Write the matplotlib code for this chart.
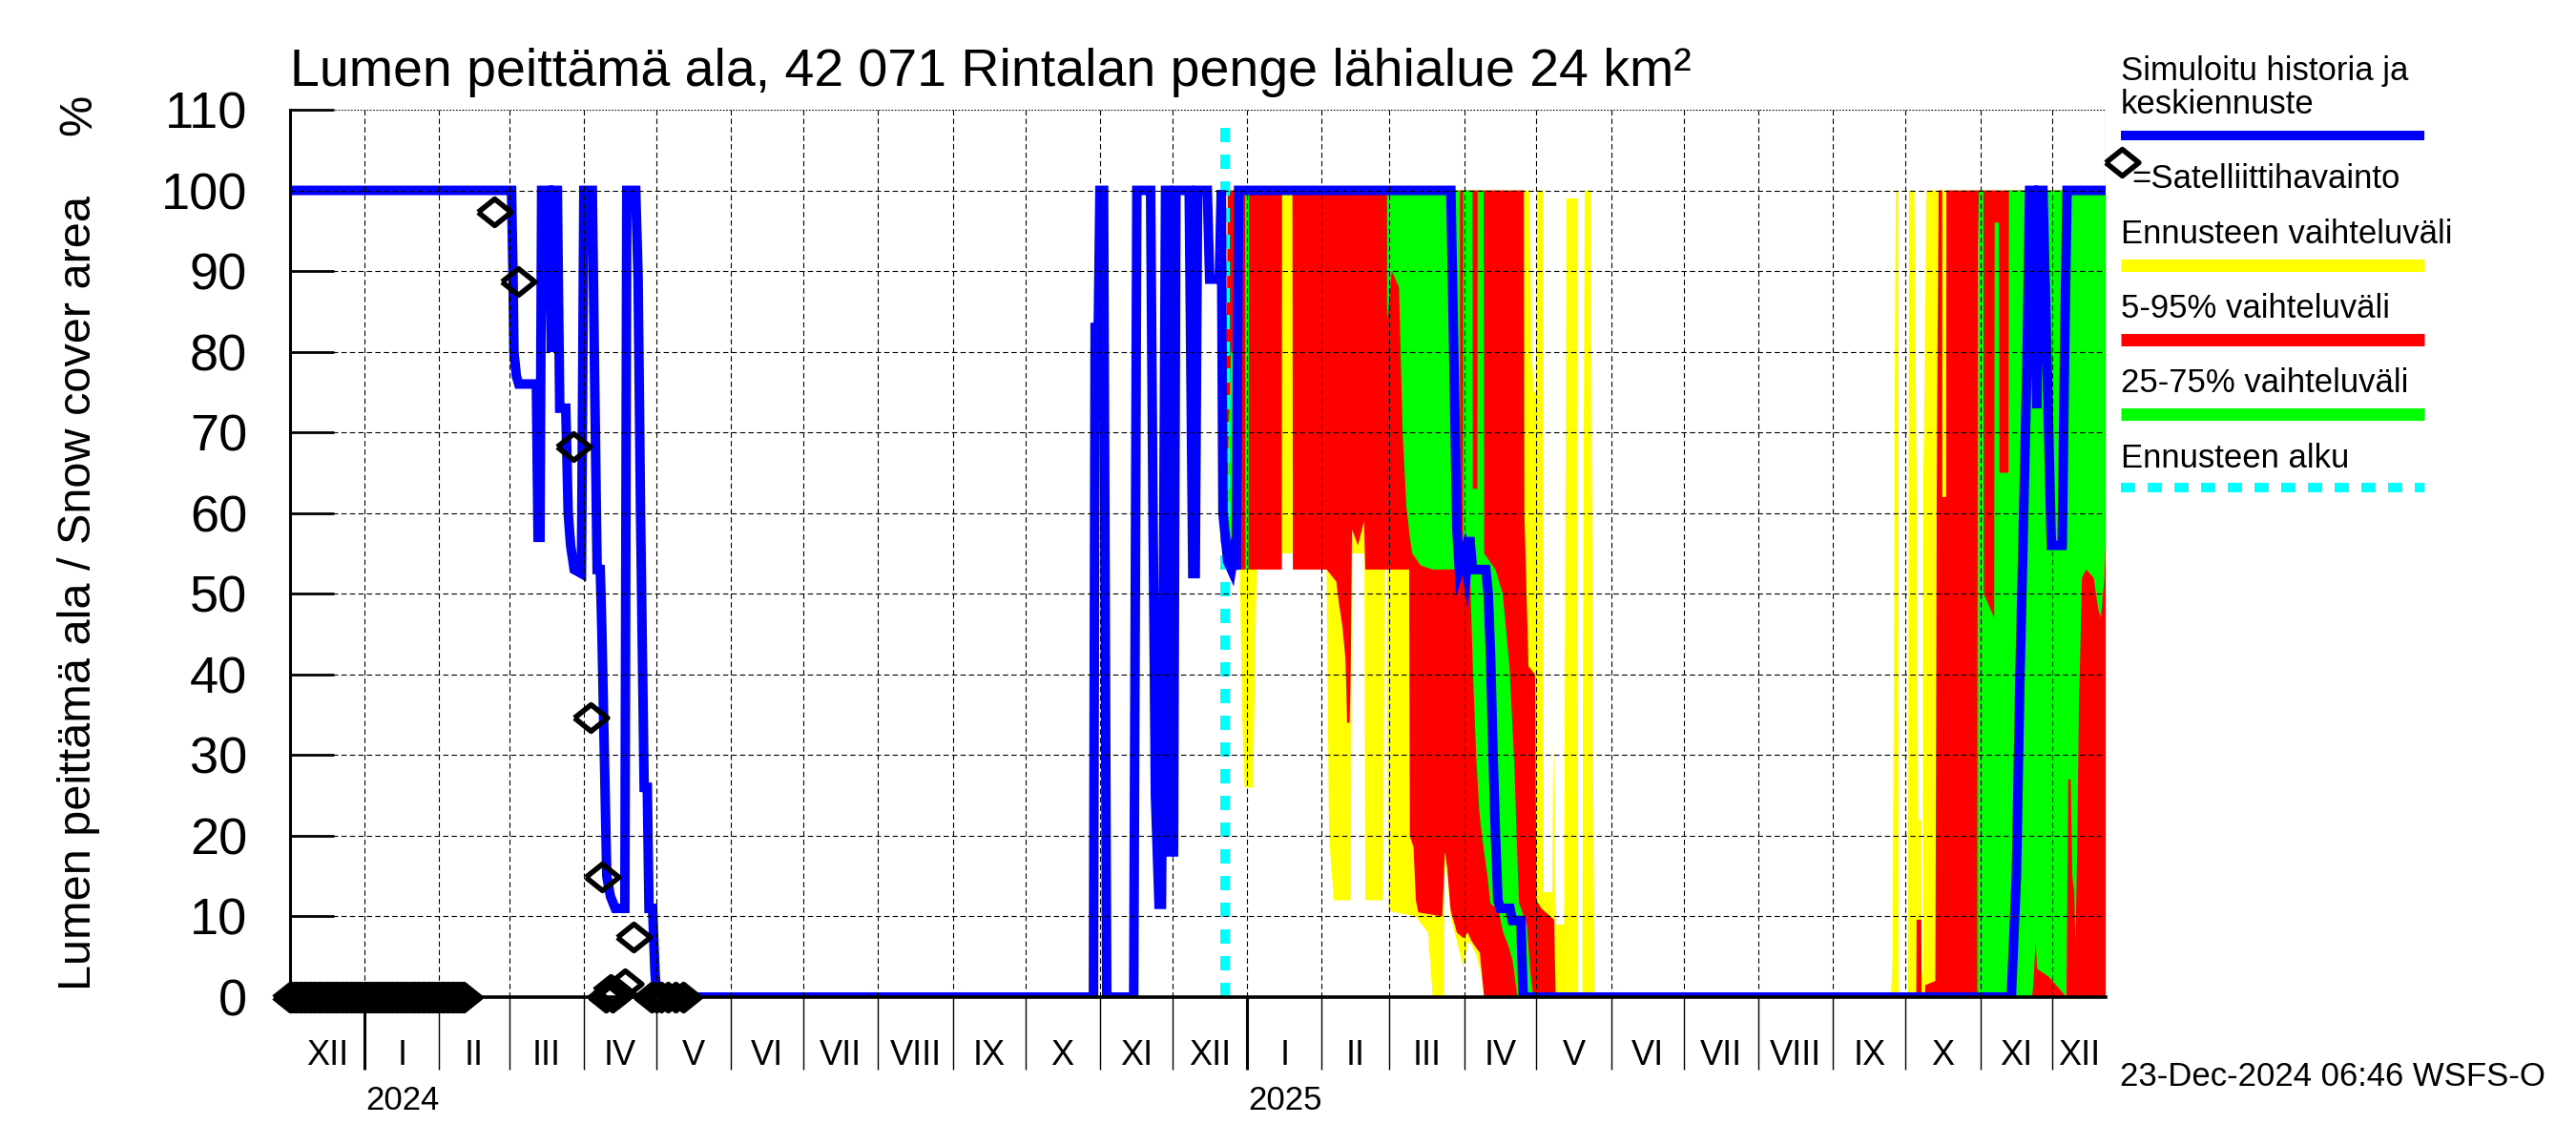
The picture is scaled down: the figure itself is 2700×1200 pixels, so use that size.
import numpy as np
import pandas as pd
import matplotlib
matplotlib.use("Agg")
import matplotlib.pyplot as plt
import matplotlib.dates as mdates
from matplotlib.lines import Line2D
from matplotlib.ticker import NullFormatter
from matplotlib.transforms import blended_transform_factory

FONT = ["Liberation Sans", "DejaVu Sans"]

START = pd.Timestamp("2023-12-01")
END = pd.Timestamp("2025-12-23")
FORECAST_START = pd.Timestamp("2024-12-23")

# all x values are days since 2023-12-01, y values are snow cover %
# simulated history + median forecast
blue_days = [0, 92, 92.6, 93, 94, 95, 102.3, 103, 103.8, 104.5, 107.5, 108.5, 109.5,
             111, 112, 114.5, 115.5, 116.5, 118, 121, 122, 125.5, 126.5, 127.5, 128.8,
             129.5, 130.5, 131.5, 133, 135, 139, 139.8, 143.5, 144.5, 145.5, 147,
             148.3, 149, 150.5, 151.5, 152.3, 333.3, 334, 335.3, 336, 337.5, 338.8,
             350, 351.3, 357, 358, 359, 360.5, 361.5, 362.5, 363.2, 364, 365.5, 366.5,
             367.5, 373, 374.5, 375.5, 376.5, 380.5, 381.5, 385.5, 386.3, 387, 388,
             389, 390.5, 391.5, 392.5, 393.5, 481.5, 483, 484, 485, 487, 488, 489.3,
             490.5, 496, 497, 498, 499, 500, 501, 502, 506, 507, 510.5, 511.5, 713.9,
             716, 717.5, 718.5, 720.5, 721.5, 723, 724.5, 725.5, 727, 728.5, 730.5,
             735, 736, 737, 753]
blue_vals = [100, 100, 90, 80, 77, 76, 76, 57, 57, 100, 100, 80, 100,
             100, 73, 73, 60, 56, 53, 52.5, 100, 100, 76, 53, 53,
             45, 30, 15, 12.5, 11, 11, 100, 100, 89, 60, 26,
             26, 11, 11, 3, 0, 0, 83, 83, 100, 100, 0,
             0, 100, 100, 60, 25, 11.5, 11.5, 60, 100, 100, 18, 18,
             100, 100, 52.5, 52.5, 100, 100, 89, 89, 100, 60, 57,
             54, 53, 55, 53, 100, 100, 75, 58, 53, 55, 53, 57,
             53, 53, 50, 42, 30, 20, 12, 11, 11, 9.5, 9.5, 0, 0,
             15, 40, 53, 80, 100, 100, 73, 100, 100, 81, 56,
             56, 80, 100, 100]

# satellite observations
obs_days = [0, 1, 2, 3, 4, 5, 6, 7, 8, 9, 10, 11, 12, 13, 14, 15, 16, 17, 18, 19,
            20, 21, 22, 23, 24, 25, 26, 27, 28, 29, 30, 31, 32, 33, 34, 35, 36, 37,
            38, 39, 40, 41, 42, 43, 44, 45, 46, 47, 48, 49, 50, 51, 52, 53, 54, 55,
            56, 57, 58, 59, 60, 61, 62, 63, 64, 65, 66, 67, 68, 69, 70, 71, 72,
            84.7, 94.6, 117.6, 124.6, 129.6, 131, 133, 134, 136, 139, 142.7,
            150, 152, 154, 157, 160, 163]
obs_vals = [0, 0, 0, 0, 0, 0, 0, 0, 0, 0, 0, 0, 0, 0, 0, 0, 0, 0, 0, 0,
            0, 0, 0, 0, 0, 0, 0, 0, 0, 0, 0, 0, 0, 0, 0, 0, 0, 0,
            0, 0, 0, 0, 0, 0, 0, 0, 0, 0, 0, 0, 0, 0, 0, 0, 0, 0,
            0, 0, 0, 0, 0, 0, 0, 0, 0, 0, 0, 0, 0, 0, 0, 0, 0,
            97.4, 88.7, 68.2, 34.6, 14.9, 0, 1, 0, 0.5, 1.7, 7.4,
            0, 0, 0, 0, 0, 0]

# ensemble range (min-max)
yel_hi_days = [388, 389, 514.3, 515, 516, 516.8, 517.3, 519.6, 520, 523.5, 524, 525,
               528.5, 529, 529.5, 534, 534.3, 536, 536.5, 537, 539.5, 540.5, 541,
               664, 664.3, 664.7, 665.3, 665.7, 666, 667.1, 667.3, 671, 671.2, 671.5,
               673.7, 674.3, 674.7, 675.3, 676.5, 676.8, 677.2, 677.3, 678.3, 678.6, 753]
yel_hi_vals = [57, 100, 100, 80, 75, 75, 100, 100, 13, 13, 32, 9,
               9, 60, 99, 99, 0, 0, 60, 100, 100, 30, 0,
               0, 2, 5, 47, 84, 100, 100, 0, 0, 35, 100,
               100, 76, 61, 22, 22, 3, 3, 61, 86, 100, 100]
yel_lo_days = [388, 394, 395, 396, 399.5, 400.5, 401, 411.4, 411.5, 416.7, 417, 430,
               430.5, 431, 433, 440, 440.5, 445.7, 446, 453.5, 454, 455, 455.5, 467,
               472, 474, 478.5, 479, 480, 481.4, 484, 486.7, 488.5, 490, 492, 494,
               495.3, 753]
yel_lo_vals = [55, 53, 35, 26, 26, 45, 53, 53, 55, 55, 53, 53,
               35, 20, 12, 12, 55, 55, 12, 12, 53, 53, 10.7, 10,
               8, 0, 0, 16.5, 15, 10, 6.9, 3.7, 6.9, 6.5, 5.3, 3,
               0, 0]

# 5-95 % range
red_hi_days = [388, 389, 511.7, 512, 513.7, 516.4, 517, 519, 524.3, 525, 674.5, 674.6,
               676.6, 676.7, 678, 678.3, 682.4, 682.6, 683, 683.3, 683.8, 685.2,
               685.3, 686.9, 687, 753]
red_hi_vals = [57, 100, 100, 60, 41, 40, 12, 11, 9.6, 0, 0, 9.6,
               9.6, 0, 0, 1.5, 2, 22, 62, 81, 100, 100,
               62, 62, 100, 100]
red_lo_days = [388, 389, 411.4, 411.5, 415.8, 416, 430, 434, 435, 436.5, 437.8, 438.5,
               439.5, 440, 440.5, 443, 445.5, 446, 464.2, 464.5, 466, 467, 468, 478,
               479, 480, 481.4, 484, 486.7, 488.5, 490, 492, 493.5, 495.3, 753]
red_lo_vals = [55, 53, 53, 100, 100, 53, 53, 51.5, 49, 46, 42, 34,
               34, 41, 58, 56, 59, 53, 53, 20, 18.6, 12, 10.5, 10,
               18, 16, 10.8, 8, 7.3, 8, 7, 6.1, 5.5, 0, 0]

# 25-75 % range
grn_hi_days = [388, 390.3, 392.3, 392.5, 485.3, 485.4, 486.5, 486.6, 490.5, 490.6,
               492.5, 492.6, 495.1, 495.3, 500, 503, 505.8, 507.8, 509.1, 509.8, 511.8,
               513, 514.5, 515.7, 699.8, 700, 700.5, 702.3, 702.5, 706.8, 707, 708.8,
               709, 712.7, 712.9, 753]
grn_hi_vals = [57, 80, 80, 100, 100, 56, 56, 100, 100, 63,
               63, 100, 100, 55, 53, 50, 41, 29, 17, 11.6, 10,
               9, 3, 0, 0, 93, 100, 100, 50, 47, 96, 96,
               65, 65, 100, 100]
grn_lo_days = [388, 390.3, 392.3, 392.5, 396.2, 396.3, 397.6, 397.8, 455, 455.1, 457,
               460, 461.5, 462.2, 463, 464.5, 465.5, 469, 474, 488, 489.5, 490, 490.6,
               492, 493.3, 494.6, 496.6, 497.9, 501.2, 503.2, 505.2, 507.1, 509.1,
               722.5, 723, 724, 724.6, 729.5, 736.8, 737.5, 738.5, 739.2, 740, 740.5,
               741.2, 741.9, 742.5, 743.2, 745, 748, 750, 751, 752.5, 753]
grn_lo_vals = [55, 53, 53, 100, 100, 53, 53, 100, 100, 84, 90,
               88, 70, 66, 61, 57, 55, 53.5, 53, 53, 52, 47, 40.8,
               29.8, 23, 19.5, 15.2, 11.6, 10.8, 8, 6.5, 4.5, 0,
               0, 1.4, 7, 3.5, 2.5, 0, 27, 27, 15, 13, 6.5,
               18, 35.6, 43, 52, 53, 52, 48, 47, 52, 56]

ROMAN = ["I", "II", "III", "IV", "V", "VI", "VII", "VIII", "IX", "X", "XI", "XII"]
YEARS = ["2024", "2025"]

BLUE = "#0000ff"
YELLOW = "#ffff00"
RED = "#ff0000"
GREEN = "#00ff00"
CYAN = "#00ffff"

DIAMOND = [(-1, 0), (0, 0.8), (1, 0), (0, -0.8), (-1, 0)]


def xd(days):
    return mdates.date2num(START) + np.asarray(days, dtype=float)


def band(ax, hi_d, hi_v, lo_d, lo_v, color, z):
    x = np.concatenate([xd(hi_d), xd(lo_d)[::-1]])
    y = np.concatenate([np.asarray(hi_v, float), np.asarray(lo_v, float)[::-1]])
    ax.fill(x, y, color=color, lw=0, zorder=z)


fig = plt.figure(figsize=(27, 12), dpi=100)
ax = fig.add_axes([0.11244, 0.12917, 0.70496, 0.775])

band(ax, yel_hi_days, yel_hi_vals, yel_lo_days, yel_lo_vals, YELLOW, 1)
band(ax, red_hi_days, red_hi_vals, red_lo_days, red_lo_vals, RED, 2)
band(ax, grn_hi_days, grn_hi_vals, grn_lo_days, grn_lo_vals, GREEN, 3)

fc = mdates.date2num(FORECAST_START)
ax.plot([fc, fc], [0, 108.5], color=CYAN, lw=7.2, dashes=(1.5, 1.3), zorder=4,
        solid_capstyle="butt", dash_capstyle="butt")

ax.plot(xd(blue_days), blue_vals, color=BLUE, lw=7.2, zorder=5,
        solid_joinstyle="miter")

ax.plot(xd(obs_days), obs_vals, ls="none", marker=DIAMOND, ms=25, mfc="none",
        mec="black", mew=4, zorder=9, clip_on=False)

x0 = mdates.date2num(START)
x1 = mdates.date2num(END)
ax.set_xlim(x0, x1)
ax.set_ylim(0, 110)

# grid drawn on top of the bands
month_starts = [m for m in pd.date_range(START, END, freq="MS") if m > START]
for m in month_starts:
    ax.axvline(mdates.date2num(m), color="black", lw=0.8, dashes=(5, 3), zorder=7)
ax.axvline(x1, color="black", lw=0.8, dashes=(5, 3), zorder=7)
for v in range(10, 101, 10):
    ax.axhline(v, color="black", lw=0.8, dashes=(5, 3), zorder=7)
ax.axhline(110, color="black", lw=0.8, dashes=(1.5, 1.5), zorder=7)

for s in ["top", "right"]:
    ax.spines[s].set_visible(False)
ax.spines["left"].set_linewidth(2.2)
ax.spines["bottom"].set_linewidth(2.6)
ax.spines["left"].set_zorder(8)
ax.spines["bottom"].set_zorder(8)

ax.set_yticks(range(0, 111, 10))
ax.tick_params(axis="y", direction="in", length=33, width=2, pad=32, labelsize=39)
for t in ax.get_yticklabels():
    t.set_fontfamily(FONT)

# month boundaries as ticks below the axis, roman numerals between them
ax.set_xticks([mdates.date2num(m) for m in month_starts])
ax.xaxis.set_major_formatter(NullFormatter())
ax.tick_params(axis="x", which="major", direction="out", length=55, width=1)
for tick, m in zip(ax.xaxis.get_major_ticks(), month_starts):
    if m.month == 1:
        tick.tick1line.set_markeredgewidth(2.2)

mids, mlabels = [], []
for m in pd.date_range(START, END, freq="MS"):
    a = max(m, START)
    b = min(m + pd.offsets.MonthBegin(1), END)
    mids.append(mdates.date2num(a + (b - a) / 2))
    mlabels.append(ROMAN[m.month - 1])
ax.set_xticks(mids, mlabels, minor=True)
ax.tick_params(axis="x", which="minor", length=0, pad=32, labelsize=26)
for t in ax.get_xticklabels(minor=True):
    t.set_fontfamily(FONT)

trans = blended_transform_factory(ax.transData, ax.transAxes)
for yr in YEARS:
    ax.text(mdates.date2num(pd.Timestamp(yr + "-01-01")) + 0.6, -0.117, yr,
            transform=trans, ha="left", va="center", fontsize=25, family=FONT)

fig.text(0.11244, 0.925, "Lumen peittämä ala, 42 071 Rintalan penge lähialue 24 km²",
         ha="left", va="baseline", fontsize=40, family=FONT)
fig.text(0.0307, 0.482, "Lumen peittämä ala / Snow cover area", rotation=90,
         ha="center", va="center", fontsize=35, family=FONT)
fig.text(0.0307, 0.90, "%", rotation=90, ha="center", va="center",
         fontsize=35, family=FONT)
fig.text(0.823, 0.06, "23-Dec-2024 06:46 WSFS-O", ha="left", va="center",
         fontsize=25, family=FONT)

# legend on the right
lx0, lx1 = 0.8233, 0.9411
fig.text(lx0, 0.930, "Simuloitu historia ja", fontsize=25, family=FONT)
fig.text(lx0, 0.9008, "keskiennuste", fontsize=25, family=FONT)
fig.add_artist(Line2D([lx0, lx1], [0.8817, 0.8817], color=BLUE, lw=7.2,
                      solid_capstyle="butt"))
fig.add_artist(Line2D([0.8237], [0.8583], marker=DIAMOND, ms=25, mfc="none",
                      mec="black", mew=4, ls="none"))
fig.text(0.8274, 0.8358, "=Satelliittihavainto", fontsize=25, family=FONT)
fig.text(lx0, 0.7875, "Ennusteen vaihteluväli", fontsize=25, family=FONT)
fig.add_artist(Line2D([lx0, lx1], [0.7683, 0.7683], color=YELLOW, lw=9.4,
                      solid_capstyle="butt"))
fig.text(lx0, 0.7225, "5-95% vaihteluväli", fontsize=25, family=FONT)
fig.add_artist(Line2D([lx0, lx1], [0.7033, 0.7033], color=RED, lw=9.4,
                      solid_capstyle="butt"))
fig.text(lx0, 0.6575, "25-75% vaihteluväli", fontsize=25, family=FONT)
fig.add_artist(Line2D([lx0, lx1], [0.6383, 0.6383], color=GREEN, lw=9.4,
                      solid_capstyle="butt"))
fig.text(lx0, 0.5917, "Ennusteen alku", fontsize=25, family=FONT)
fig.add_artist(Line2D([lx0, lx1], [0.5742, 0.5742], color=CYAN, lw=7.2,
                      dashes=(1.5, 1.3), dash_capstyle="butt"))

fig.savefig("out.png", dpi=100)
plt.close(fig)
